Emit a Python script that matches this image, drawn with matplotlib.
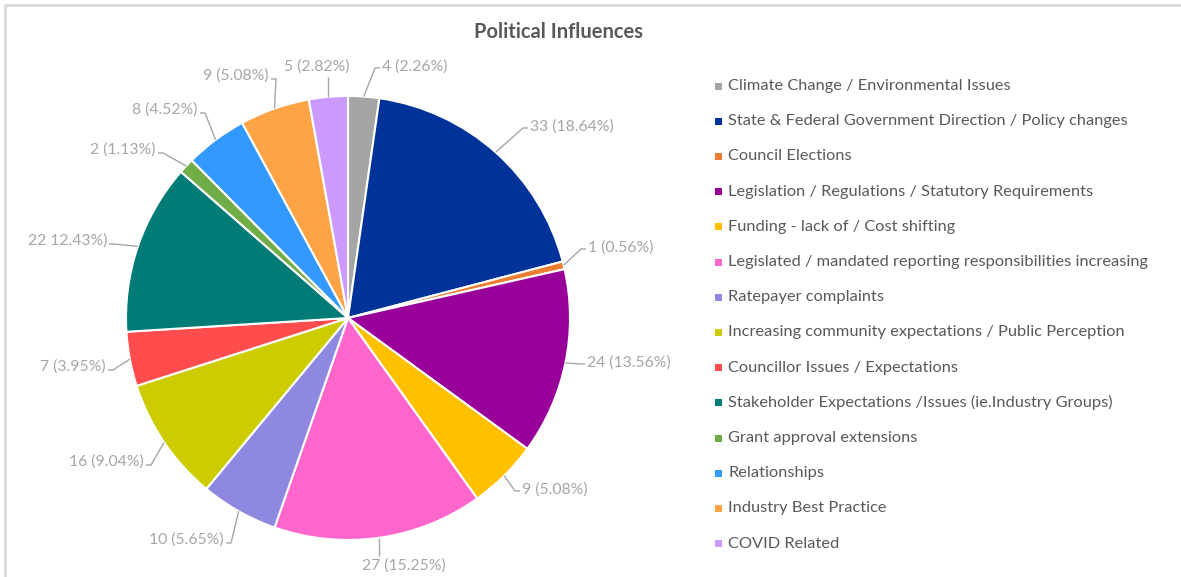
import numpy as np
import matplotlib
matplotlib.use("Agg")
import matplotlib.pyplot as plt
from matplotlib.patches import Rectangle

plt.rcParams["font.family"] = ["Lato", "DejaVu Sans"]

title = "Political Influences"

categories = [
    "Climate Change / Environmental Issues",
    "State & Federal Government Direction / Policy changes",
    "Council Elections",
    "Legislation / Regulations / Statutory Requirements",
    "Funding - lack of / Cost shifting",
    "Legislated / mandated reporting responsibilities increasing",
    "Ratepayer complaints",
    "Increasing community expectations / Public Perception",
    "Councillor Issues / Expectations",
    "Stakeholder Expectations /Issues (ie.Industry Groups)",
    "Grant approval extensions",
    "Relationships",
    "Industry Best Practice",
    "COVID Related",
]
counts = [4, 33, 1, 24, 9, 27, 10, 16, 7, 22, 2, 8, 9, 5]

colors = [
    "#A5A5A5", "#003399", "#ED7D31", "#990099", "#FFC000", "#FF66CC", "#8E88E0",
    "#CCCC00", "#FF4D4D", "#007B76", "#70AD47", "#3399FF", "#FFA347", "#CC99FF",
]

# label text format; the stakeholder slice label has lost its opening bracket
label_fmt = ["{v} ({p:.2f}%)"] * len(counts)
label_fmt[9] = "{v} {p:.2f}%)"

# figure is laid out in pixels (origin top-left for the positions below)
W, H = 1181, 577
cx, cy, R = 348, 318, 222

# where each data label sits: x, y, horizontal alignment
label_pos = [
    (382, 67, "left"), (530, 127, "left"), (588, 248, "left"), (587, 363, "left"),
    (522, 490, "left"), (404, 566, "center"), (224, 540, "right"), (144, 462, "right"),
    (106, 367, "right"), (107, 241, "right"), (156, 150, "right"), (198, 110, "right"),
    (269, 76, "right"), (317, 67, "center"),
]

LABEL_GREY = "#A6A6A6"
TEXT_GREY = "#595959"

fig = plt.figure(figsize=(W / 100, H / 100), dpi=100)
ax = fig.add_axes([0, 0, 1, 1])

wedges, _ = ax.pie(
    counts, colors=colors, startangle=90, counterclock=False,
    center=(cx, H - cy), radius=R,
    wedgeprops=dict(edgecolor="white", linewidth=1.5),
)
ax.set_xlim(0, W)
ax.set_ylim(0, H)
ax.set_aspect("auto")
ax.axis("off")

total = sum(counts)
for i, w in enumerate(wedges):
    # leader line starts on the rim at the middle of the wedge
    mid = np.deg2rad((w.theta1 + w.theta2) / 2)
    rx = cx + R * np.cos(mid)
    ry = (H - cy) + R * np.sin(mid)

    x, y, ha = label_pos[i]
    ty = H - y
    if ha == "left":
        xs = [rx, x - 7, x - 2]
        ys = [ry, ty - 1, ty - 1]
    elif ha == "right":
        xs = [rx, x + 7, x + 2]
        ys = [ry, ty - 3, ty - 3]
    else:
        end = ty - 10 if ry < ty else ty + 10
        xs = [rx, rx]
        ys = [ry, end]
    ax.plot(xs, ys, color=LABEL_GREY, lw=1.0, solid_capstyle="butt")

    pct = counts[i] / total * 100
    txt = label_fmt[i].format(v=counts[i], p=pct)
    ax.text(x, ty, txt, ha=ha, va="center", fontsize=11.3, color=LABEL_GREY)

# legend on the right
for i, name in enumerate(categories):
    y = H - (86 + i * 35.2)
    ax.add_patch(Rectangle((714.5, y - 3.5), 7, 7, facecolor=colors[i], edgecolor="none"))
    ax.text(728, y, name, ha="left", va="center", fontsize=11.8, color=TEXT_GREY)

ax.text(559, H - 32, title, ha="center", va="center", fontsize=14.5,
        fontweight="bold", color=TEXT_GREY)

# chart border
ax.plot([5, 5, W], [0, H - 5, H - 5], color="#D9D9D9", lw=2)

fig.savefig("out.png", dpi=100)
